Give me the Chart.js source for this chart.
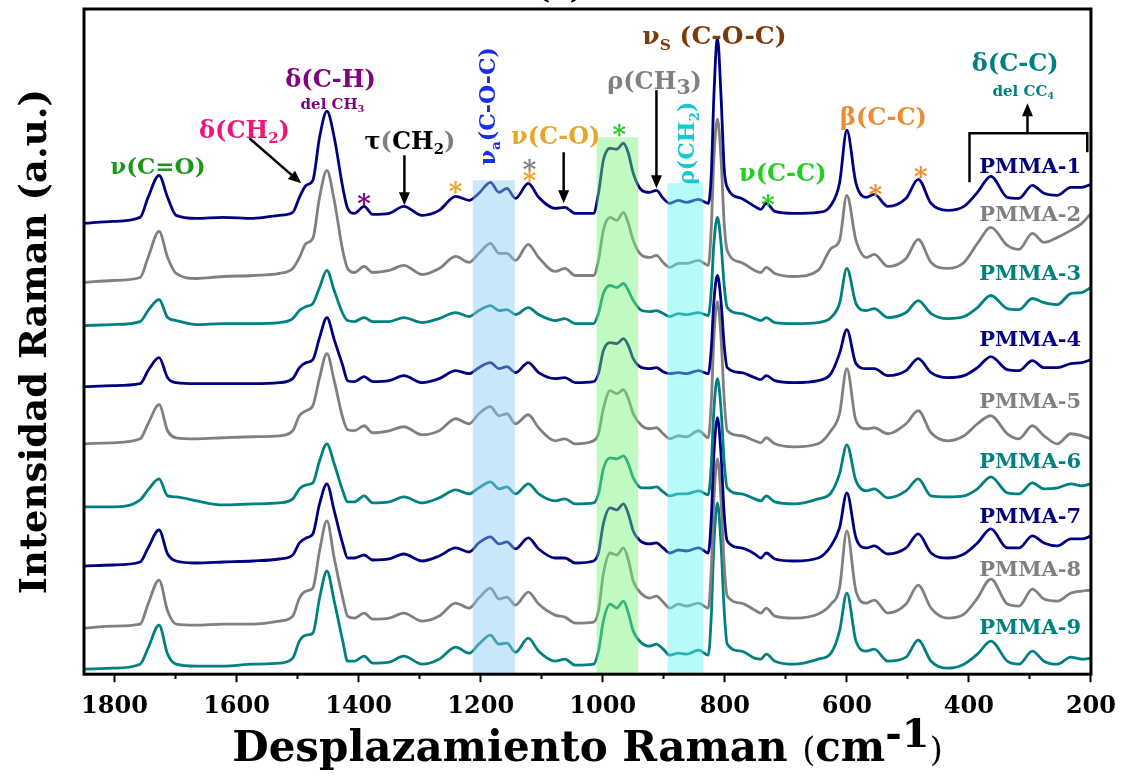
<!DOCTYPE html>
<html lang="es">
<head>
<meta charset="utf-8">
<title>Espectros Raman PMMA</title>
<script src="https://cdn.jsdelivr.net/npm/chart.js@4.4.1/dist/chart.umd.min.js"></script>
<style>
  html, body { margin: 0; padding: 0; background: #fff; }
  canvas { display: block; }
</style>
</head>
<body>
<canvas id="ramanChart" width="1126" height="780"></canvas>
<script>
// Desplazamiento Raman (cm-1), común a todos los espectros
const wavenumbers = [
  1850, 1803, 1758, 1745, 1727, 1713, 1699, 1666, 1622, 1573,
  1530, 1508, 1497, 1486, 1475, 1464, 1452, 1440, 1426, 1418,
  1407, 1391, 1377, 1350, 1326, 1296, 1268, 1241, 1219, 1203,
  1184, 1170, 1157, 1143, 1122, 1105, 1078, 1062, 1045, 1015,
  1007, 999, 988, 977, 966, 958, 950, 936, 923, 912,
  901, 890, 876, 863, 843, 827, 822, 818, 812, 806,
  801, 796, 773, 751, 741, 732, 718, 686, 647, 626,
  612, 600, 585, 568, 555, 533, 503, 483, 462, 435,
  408, 386, 364, 337, 318, 296, 277, 255, 233, 215,
  200
];

// Intensidades (a.u.), ya desplazadas verticalmente
const pmma1 = [
  450, 452, 456, 476, 498, 476, 458, 455, 456, 455,
  458, 461, 476, 488, 493, 536, 562, 536, 486, 465,
  460, 467, 459, 460, 467, 458, 463, 477, 473, 480,
  491, 481, 485, 475, 490, 476, 465, 466, 460, 460,
  480, 513, 525, 524, 530, 520, 500, 483, 481, 483,
  475, 470, 473, 471, 474, 470, 500, 575, 635, 575,
  505, 486, 475, 467, 464, 470, 462, 460, 461, 468,
  490, 543, 490, 476, 479, 467, 475, 494, 470, 463,
  467, 481, 497, 476, 475, 488, 480, 478, 486, 486,
  489
];
const pmma2 = [
  391, 393, 396, 416, 442, 416, 400, 395, 397, 398,
  400, 405, 416, 430, 435, 476, 503, 473, 423, 405,
  401, 407, 401, 403, 408, 399, 405, 417, 411, 420,
  430, 420, 420, 413, 429, 416, 402, 405, 398, 398,
  413, 443, 456, 453, 461, 450, 433, 418, 416, 418,
  411, 406, 410, 410, 413, 408, 447, 513, 554, 513,
  450, 423, 411, 403, 401, 406, 400, 397, 403, 425,
  433, 478, 433, 416, 419, 407, 415, 434, 411, 405,
  411, 430, 446, 428, 424, 440, 431, 436, 443, 450,
  460
];
const pmma3 = [
  348, 349, 352, 363, 374, 356, 353, 349, 350, 350,
  351, 355, 363, 367, 370, 386, 403, 383, 360, 353,
  352, 356, 352, 352, 356, 351, 355, 361, 357, 363,
  368, 363, 364, 359, 366, 359, 353, 355, 350, 350,
  360, 380, 388, 386, 390, 383, 373, 363, 362, 363,
  360, 357, 360, 359, 361, 358, 384, 429, 456, 429,
  388, 366, 360, 355, 353, 356, 351, 350, 351, 356,
  370, 405, 370, 363, 365, 356, 361, 373, 360, 355,
  357, 366, 378, 365, 364, 375, 371, 369, 380, 381,
  386
];
const pmma4 = [
  287, 288, 290, 303, 316, 296, 291, 290, 290, 290,
  291, 295, 306, 311, 314, 336, 356, 334, 308, 293,
  292, 297, 292, 293, 298, 291, 295, 303, 300, 306,
  311, 305, 307, 301, 311, 301, 295, 296, 291, 292,
  300, 323, 331, 330, 335, 328, 315, 306, 305, 306,
  302, 300, 301, 300, 303, 300, 326, 371, 398, 371,
  328, 306, 301, 296, 294, 298, 293, 291, 293, 300,
  320, 344, 310, 305, 305, 298, 303, 315, 301, 296,
  298, 306, 317, 304, 303, 313, 306, 306, 310, 311,
  314
];
const pmma5 = [
  230, 231, 235, 250, 269, 243, 236, 235, 236, 237,
  238, 243, 258, 263, 268, 296, 320, 293, 256, 244,
  243, 248, 241, 243, 247, 239, 243, 255, 250, 260,
  267, 258, 260, 250, 259, 246, 233, 235, 230, 233,
  240, 265, 283, 280, 284, 275, 260, 248, 245, 246,
  240, 235, 238, 237, 243, 236, 273, 334, 372, 334,
  275, 243, 238, 233, 231, 236, 230, 227, 230, 243,
  260, 305, 253, 245, 246, 240, 250, 263, 241, 233,
  238, 250, 258, 240, 235, 248, 238, 230, 240, 238,
  235
];
const pmma6 = [
  167, 167, 174, 184, 195, 178, 177, 173, 169, 170,
  171, 175, 185, 189, 191, 213, 230, 210, 183, 172,
  172, 178, 171, 172, 177, 171, 176, 184, 180, 186,
  192, 185, 187, 180, 190, 180, 173, 175, 170, 171,
  180, 205, 216, 215, 218, 210, 196, 186, 186, 187,
  182, 178, 180, 180, 183, 179, 210, 263, 295, 263,
  212, 186, 180, 175, 173, 178, 172, 170, 175, 181,
  200, 229, 193, 183, 185, 176, 183, 195, 178, 177,
  178, 185, 197, 181, 180, 191, 185, 186, 190, 188,
  190
];
const pmma7 = [
  108, 109, 112, 126, 144, 120, 113, 111, 112, 113,
  115, 119, 131, 136, 140, 170, 190, 163, 130, 116,
  116, 119, 114, 115, 120, 113, 118, 126, 122, 131,
  137, 130, 132, 125, 136, 125, 116, 116, 111, 113,
  121, 150, 166, 164, 170, 160, 143, 132, 130, 131,
  126, 121, 124, 123, 126, 121, 157, 218, 256, 218,
  160, 133, 126, 120, 116, 121, 115, 113, 116, 128,
  146, 181, 136, 126, 128, 120, 126, 140, 121, 116,
  120, 131, 145, 126, 126, 138, 131, 128, 135, 135,
  138
];
const pmma8 = [
  46, 48, 50, 70, 94, 63, 50, 49, 50, 50,
  53, 58, 76, 83, 86, 123, 153, 116, 76, 58,
  56, 61, 55, 56, 61, 53, 58, 71, 66, 76,
  86, 75, 77, 69, 82, 70, 59, 57, 51, 52,
  63, 100, 121, 119, 126, 114, 93, 80, 76, 78,
  72, 66, 70, 68, 71, 66, 106, 173, 215, 173,
  110, 78, 71, 64, 61, 66, 58, 56, 60, 70,
  86, 143, 83, 71, 74, 61, 70, 89, 66, 56,
  60, 76, 95, 70, 68, 85, 75, 73, 81, 83,
  84
];
const pmma9 = [
  5, 6, 10, 26, 49, 20, 10, 8, 8, 10,
  11, 16, 33, 39, 41, 76, 103, 73, 33, 13,
  13, 18, 11, 12, 18, 10, 15, 27, 21, 30,
  39, 30, 31, 22, 36, 23, 13, 15, 9, 10,
  23, 53, 70, 66, 73, 61, 43, 31, 28, 30,
  25, 19, 21, 20, 24, 19, 60, 128, 171, 128,
  64, 30, 23, 16, 15, 20, 13, 10, 15, 21,
  43, 81, 33, 23, 25, 13, 17, 34, 13, 6,
  10, 20, 33, 13, 10, 23, 13, 10, 17, 15,
  16
];

const sampleNames = ['PMMA-1', 'PMMA-2', 'PMMA-3', 'PMMA-4', 'PMMA-5', 'PMMA-6', 'PMMA-7', 'PMMA-8', 'PMMA-9'];
const spectra = [pmma1, pmma2, pmma3, pmma4, pmma5, pmma6, pmma7, pmma8, pmma9];

// Zonas sombreadas: inicio, fin (cm-1) y altura
const bandFrom = [1213, 1010, 894];
const bandTo = [1144, 942, 835];
const bandTop = [493, 536, 490];

// Estilos
const FONT = '"DejaVu Serif", serif';
const NAVY = '#000080';
const GRAY = '#808080';
const TEAL = '#008080';
const sampleColors = [NAVY, GRAY, TEAL, NAVY, GRAY, TEAL, NAVY, GRAY, TEAL];
const bandColors = ['rgba(133,204,244,0.45)', 'rgba(115,244,115,0.45)', 'rgba(97,244,244,0.45)'];

// Posición de los nombres de muestra (cm-1, intensidad)
const sampleLabelW = 216;
const sampleLabelH = [508, 460, 401, 335, 273, 213, 158, 106, 48];

// Asignaciones de bandas
const annotations = [
  { w: 1729, h: 508, size: 23, color: '#1a961a', runs: ['ν(C=O)'] },
  { w: 1587, h: 544, size: 24, color: '#f0147a', runs: ['δ(CH', { t: '2', sub: true }, ')'] },
  { w: 1446, h: 595, size: 24, color: '#800080', runs: ['δ(C-H)'] },
  { w: 1443, h: 570, size: 15, color: '#800080', runs: ['del CH', { t: '3', sub: true }] },
  { w: 1316, h: 533, size: 24, color: '#000000',
    runs: ['τ', { t: '(', color: GRAY }, 'CH', { t: '2', sub: true }, { t: ')', color: GRAY }] },
  { w: 1190, h: 567, size: 22, color: '#1a2ee6', rotate: true, runs: ['ν', { t: 'a', sub: true }, '(C-O-C)'] },
  { w: 1077, h: 538, size: 24, color: '#e8a628', runs: ['ν(C-O)'] },
  { w: 915, h: 593, size: 24, color: GRAY, runs: ['ρ(CH', { t: '3', sub: true, scale: 0.85 }, ')'] },
  { w: 863, h: 530, size: 22, color: '#16c8d0', rotate: true, runs: ['ρ(CH', { t: '2', sub: true }, ')'] },
  { w: 817, h: 638, size: 25, color: '#7a3c0c', runs: ['ν', { t: 'S', sub: true }, ' (C-O-C)'] },
  { w: 705, h: 501, size: 24, color: '#22d022', runs: ['ν(C-C)'] },
  { w: 540, h: 557, size: 24, color: '#f08a30', runs: ['β(C-C)'] },
  { w: 324, h: 611, size: 24, color: TEAL, runs: ['δ(C-C)'] },
  { w: 311, h: 583, size: 15, color: TEAL, runs: ['del CC', { t: '4', sub: true }] }
];

const asterisks = [
  { w: 1391, h: 476, color: '#800080' },
  { w: 1241, h: 488, color: '#e8a628' },
  { w: 1120, h: 510, color: GRAY },
  { w: 1120, h: 499, color: '#e8a628' },
  { w: 973, h: 545, color: '#22d022' },
  { w: 729, h: 475, color: '#22d022' },
  { w: 553, h: 485, color: '#f08a30' },
  { w: 479, h: 503, color: '#f08a30' }
];

const arrows = [
  [1579, 535, 1494, 490],
  [1325, 518, 1325, 468],
  [1064, 521, 1064, 470],
  [912, 583, 912, 485],
  [304, 541, 304, 570]
];
const bracket = [[399, 491], [399, 540], [206, 540], [206, 521]];

// Dibuja texto con subíndices/superíndices centrado en (x, y)
function drawRuns(ctx, runs, x, y, size, color, rotate) {
  ctx.save();
  ctx.translate(x, y);
  if (rotate) ctx.rotate(-Math.PI / 2);
  const parts = runs.map(r => (typeof r === 'string' ? { t: r } : Object.assign({}, r)));
  let total = 0;
  parts.forEach(p => {
    p.px = size * (p.scale || (p.sub || p.sup ? 0.62 : 1));
    ctx.font = `${p.weight || 'bold'} ${p.px}px ${FONT}`;
    p.width = ctx.measureText(p.t).width;
    total += p.width;
  });
  ctx.textAlign = 'left';
  ctx.textBaseline = 'alphabetic';
  let cx = -total / 2;
  parts.forEach(p => {
    let dy = size * 0.36;
    if (p.sub) dy += size * 0.22;
    if (p.dy) dy += p.dy * size;
    ctx.font = `${p.weight || 'bold'} ${p.px}px ${FONT}`;
    ctx.fillStyle = p.color || color;
    ctx.fillText(p.t, cx, dy);
    cx += p.width;
  });
  ctx.restore();
}

function drawArrow(ctx, x1, y1, x2, y2) {
  const a = Math.atan2(y2 - y1, x2 - x1);
  const len = 13, half = 5.5;
  ctx.beginPath();
  ctx.moveTo(x1, y1);
  ctx.lineTo(x2 - len * 0.7 * Math.cos(a), y2 - len * 0.7 * Math.sin(a));
  ctx.stroke();
  ctx.beginPath();
  ctx.moveTo(x2, y2);
  ctx.lineTo(x2 - len * Math.cos(a) + half * Math.sin(a), y2 - len * Math.sin(a) - half * Math.cos(a));
  ctx.lineTo(x2 - len * Math.cos(a) - half * Math.sin(a), y2 - len * Math.sin(a) + half * Math.cos(a));
  ctx.closePath();
  ctx.fill();
}

const decorations = {
  id: 'decorations',
  afterDatasetsDraw(chart) {
    const { ctx, chartArea, scales: { x, y } } = chart;
    ctx.save();
    bandFrom.forEach((from, i) => {
      const x1 = x.getPixelForValue(from);
      const x2 = x.getPixelForValue(bandTo[i]);
      const top = y.getPixelForValue(bandTop[i]);
      ctx.fillStyle = bandColors[i];
      ctx.fillRect(x1, top, x2 - x1, chartArea.bottom - top);
    });
    ctx.restore();
  },
  afterDraw(chart) {
    const { ctx, chartArea, scales: { x, y } } = chart;
    const px = w => x.getPixelForValue(w);
    const py = h => y.getPixelForValue(h);
    ctx.save();

    // marco
    ctx.strokeStyle = '#000';
    ctx.lineWidth = 3;
    ctx.strokeRect(chartArea.left, chartArea.top, chartArea.right - chartArea.left, chartArea.bottom - chartArea.top);

    // flechas y corchete
    ctx.lineWidth = 2.5;
    ctx.fillStyle = '#000';
    arrows.forEach(([w1, h1, w2, h2]) => drawArrow(ctx, px(w1), py(h1), px(w2), py(h2)));
    ctx.beginPath();
    bracket.forEach(([w, h], i) => (i ? ctx.lineTo(px(w), py(h)) : ctx.moveTo(px(w), py(h))));
    ctx.stroke();

    annotations.forEach(a => drawRuns(ctx, a.runs, px(a.w), py(a.h), a.size, a.color, a.rotate));

    ctx.font = `bold 26px ${FONT}`;
    ctx.textAlign = 'center';
    ctx.textBaseline = 'alphabetic';
    asterisks.forEach(s => {
      ctx.fillStyle = s.color;
      ctx.fillText('*', px(s.w), py(s.h) + 26 * 0.58);
    });

    // nombres de las muestras
    ctx.font = `bold 21px ${FONT}`;
    ctx.textAlign = 'right';
    sampleNames.forEach((name, i) => {
      ctx.fillStyle = sampleColors[i];
      ctx.fillText(name, px(sampleLabelW), py(sampleLabelH[i]) + 21 * 0.36);
    });

    // títulos de los ejes
    const midX = (chartArea.left + chartArea.right) / 2;
    const midY = (chartArea.top + chartArea.bottom) / 2;
    drawRuns(ctx, [
      'Desplazamiento Raman ',
      { t: '(', weight: 'normal', scale: 0.8 },
      'cm',
      { t: '-1', scale: 0.95, dy: -0.33 },
      { t: ')', weight: 'normal', scale: 0.8 }
    ], midX, 746, 42, '#000');
    drawRuns(ctx, ['Intensidad Raman (a.u.)'], 33, midY, 37, '#000', true);
    drawRuns(ctx, ['(a)'], 560, -13, 30, '#000');

    ctx.restore();
  }
};

const ctx = document.getElementById('ramanChart').getContext('2d');
const ramanChart = new Chart(ctx, {
  type: 'line',
  data: {
    datasets: spectra.map((values, i) => ({
      label: sampleNames[i],
      data: wavenumbers.map((w, j) => ({ x: w, y: values[j] })),
      borderColor: sampleColors[i],
      borderWidth: 2.8,
      pointRadius: 0,
      fill: false,
      cubicInterpolationMode: 'monotone'
    }))
  },
  options: {
    responsive: false,
    animation: false,
    events: [],
    layout: { padding: { left: 84, right: 32, top: 9, bottom: 49 } },
    plugins: {
      legend: { display: false },
      tooltip: { enabled: false }
    },
    scales: {
      x: {
        type: 'linear',
        min: 200,
        max: 1850,
        reverse: true,
        border: { display: false },
        grid: {
          drawOnChartArea: false,
          drawTicks: true,
          tickLength: 8,
          tickWidth: 2,
          tickColor: '#000',
          tickBorderDash: c => (c.tick && c.tick.value % 200 !== 0 ? [5, 40] : [])
        },
        ticks: {
          stepSize: 100,
          includeBounds: false,
          autoSkip: false,
          maxRotation: 0,
          padding: 10,
          color: '#000',
          font: { family: FONT, size: 24, weight: 'bold' },
          callback: v => (v % 200 === 0 ? v : '')
        }
      },
      y: { display: false, min: 0, max: 664 }
    }
  },
  plugins: [decorations]
});
</script>
</body>
</html>
